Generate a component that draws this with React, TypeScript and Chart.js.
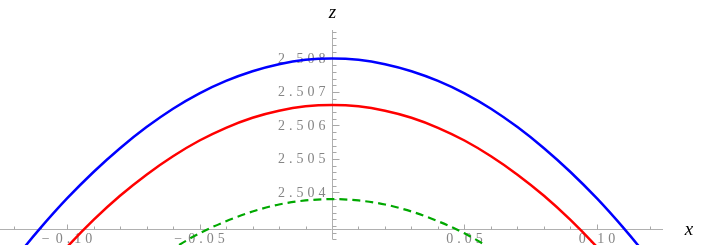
import React, { useEffect, useRef } from "react";
import { Chart, registerables } from "chart.js";

Chart.register(...registerables);

// ---- data ----
const xSamples = [-0.13, -0.12, -0.11, -0.1, -0.09, -0.08, -0.07, -0.06, -0.05, -0.04, -0.03, -0.02, -0.01, 0,
  0.01, 0.02, 0.03, 0.04, 0.05, 0.06, 0.07, 0.08, 0.09, 0.1, 0.11, 0.12, 0.13];
const blueZ = [2.50094, 2.50198, 2.50294, 2.50382, 2.50461, 2.50532, 2.50595, 2.5065, 2.50696, 2.50733, 2.50762, 2.50783, 2.50796, 2.508,
  2.50796, 2.50783, 2.50762, 2.50733, 2.50696, 2.5065, 2.50595, 2.50532, 2.50461, 2.50382, 2.50294, 2.50198, 2.50094];
const redZ = [2.49944, 2.5005, 2.50148, 2.50237, 2.50318, 2.5039, 2.50453, 2.50508, 2.50555, 2.50593, 2.50623, 2.50644, 2.50657, 2.50661,
  2.50657, 2.50644, 2.50623, 2.50593, 2.50555, 2.50508, 2.50453, 2.5039, 2.50318, 2.50237, 2.50148, 2.5005, 2.49944];
const greenX = [-0.07, -0.06, -0.05, -0.04, -0.03, -0.02, -0.01, 0, 0.01, 0.02, 0.03, 0.04, 0.05, 0.06, 0.07];
const greenZ = [2.50179, 2.50232, 2.50278, 2.50314, 2.50343, 2.50364, 2.50376, 2.5038,
  2.50376, 2.50364, 2.50343, 2.50314, 2.50278, 2.50232, 2.50179];

const xTickValues = [-0.1, -0.05, 0.05, 0.1];
const xTickLabels = ["\u22120.10", "\u22120.05", "0.05", "0.10"];
const xMinorTicks = [-0.12, -0.11, -0.09, -0.08, -0.07, -0.06, -0.04, -0.03, -0.02, -0.01,
  0.01, 0.02, 0.03, 0.04, 0.06, 0.07, 0.08, 0.09, 0.11, 0.12];
const zTickValues = [2.504, 2.505, 2.506, 2.507, 2.508];
const zTickLabels = ["2.504", "2.505", "2.506", "2.507", "2.508"];
const zMinorTicks = [2.5026, 2.5028, 2.503, 2.5032, 2.5034, 2.5036, 2.5038, 2.5042, 2.5044, 2.5046, 2.5048,
  2.5052, 2.5054, 2.5056, 2.5058, 2.5062, 2.5064, 2.5066, 2.5068, 2.5072, 2.5074, 2.5076, 2.5078,
  2.5082, 2.5084, 2.5086, 2.5088];

const X_MIN = -0.1253;
const X_MAX = 0.1253;
const Z_MIN = 2.50243;
const Z_MAX = 2.50885;
const AXIS_Z = 2.5029; // where the x axis crosses
const Z_AXIS_BOTTOM = 2.5026;

const LABEL_FONT = '14px "Liberation Serif"';
const LABEL_COLOR = "#858585";
const AXIS_COLOR = "#b0b0b0";
const TICK_COLOR = "#a8a8a8";
const SPACING = 4;

function spacedWidth(ctx: CanvasRenderingContext2D, s: string) {
  let w = 0;
  const chars = Array.from(s);
  chars.forEach((c, i) => {
    w += ctx.measureText(c).width + (i < chars.length - 1 ? SPACING : 0);
  });
  return w;
}

function drawSpaced(ctx: CanvasRenderingContext2D, s: string, x: number, y: number) {
  let cx = x;
  Array.from(s).forEach((c) => {
    ctx.fillText(c, cx, y);
    cx += ctx.measureText(c).width + SPACING + (c === "\u2212" ? 2 : 0);
  });
}

const axesPlugin = {
  id: "mmaAxes",
  beforeDatasetsDraw(chart: any) {
    const { ctx, chartArea } = chart;
    const xs = chart.scales.x;
    const ys = chart.scales.y;
    const x0 = Math.round(xs.getPixelForValue(0)) + 0.5;
    const y0 = Math.round(ys.getPixelForValue(AXIS_Z)) + 0.5;
    ctx.save();
    ctx.lineWidth = 1;
    ctx.strokeStyle = AXIS_COLOR;
    ctx.beginPath();
    ctx.moveTo(chartArea.left, y0);
    ctx.lineTo(chartArea.right - 1, y0);
    ctx.moveTo(x0, chartArea.top);
    ctx.lineTo(x0, ys.getPixelForValue(Z_AXIS_BOTTOM));
    ctx.stroke();

    ctx.strokeStyle = TICK_COLOR;
    ctx.beginPath();
    xTickValues.forEach((v) => {
      const px = Math.round(xs.getPixelForValue(v)) + 0.5;
      ctx.moveTo(px, y0);
      ctx.lineTo(px, y0 - 5);
    });
    xMinorTicks.forEach((v) => {
      const px = Math.round(xs.getPixelForValue(v)) + 0.5;
      ctx.moveTo(px, y0);
      ctx.lineTo(px, y0 - 3);
    });
    zTickValues.forEach((v) => {
      const py = Math.round(ys.getPixelForValue(v)) + 0.5;
      ctx.moveTo(x0, py);
      ctx.lineTo(x0 + 7, py);
    });
    zMinorTicks.forEach((v) => {
      const py = Math.round(ys.getPixelForValue(v)) + 0.5;
      ctx.moveTo(x0, py);
      ctx.lineTo(x0 + 4, py);
    });
    ctx.stroke();

    ctx.fillStyle = LABEL_COLOR;
    ctx.font = LABEL_FONT;
    ctx.textAlign = "left";
    ctx.textBaseline = "middle";
    zTickValues.forEach((v, i) => {
      const py = ys.getPixelForValue(v);
      const w = spacedWidth(ctx, zTickLabels[i]);
      drawSpaced(ctx, zTickLabels[i], x0 - 7 - w, py + 0.5);
    });
    ctx.textBaseline = "alphabetic";
    xTickValues.forEach((v, i) => {
      const px = xs.getPixelForValue(v);
      const w = spacedWidth(ctx, xTickLabels[i]) + (v < 0 ? 2 : 0);
      drawSpaced(ctx, xTickLabels[i], px - w / 2, y0 + 13);
    });

    ctx.fillStyle = "#000";
    ctx.font = 'italic 19px "Liberation Serif"';
    ctx.textAlign = "center";
    ctx.fillText("z", x0, 18);
    ctx.fillText("x", chartArea.right + 25, y0 + 5);
    ctx.restore();
  },
};

export default function App() {
  const canvasRef = useRef<HTMLCanvasElement | null>(null);

  useEffect(() => {
    document.body.style.margin = "0";
    const canvas = canvasRef.current;
    if (!canvas) return;
    const toPts = (xsArr: number[], zsArr: number[]) => xsArr.map((x, i) => ({ x, y: zsArr[i] }));
    const chart = new Chart(canvas, {
      type: "line",
      data: {
        datasets: [
          {
            data: toPts(xSamples, blueZ),
            borderColor: "#0000ff",
            borderWidth: 2.5,
            pointRadius: 0,
            cubicInterpolationMode: "monotone",
            fill: false,
          },
          {
            data: toPts(xSamples, redZ),
            borderColor: "#ff0000",
            borderWidth: 2.5,
            pointRadius: 0,
            cubicInterpolationMode: "monotone",
            fill: false,
          },
          {
            data: toPts(greenX, greenZ),
            borderColor: "#00a800",
            borderWidth: 2.2,
            borderDash: [8, 5],
            pointRadius: 0,
            cubicInterpolationMode: "monotone",
            fill: false,
          },
        ],
      },
      options: {
        responsive: false,
        animation: false,
        devicePixelRatio: 1,
        layout: { padding: { left: 0, right: 42, top: 30, bottom: 0 } },
        plugins: { legend: { display: false }, tooltip: { enabled: false } },
        scales: {
          x: { type: "linear", min: X_MIN, max: X_MAX, display: false },
          y: { type: "linear", min: Z_MIN, max: Z_MAX, display: false },
        },
      },
      plugins: [axesPlugin],
    });
    return () => chart.destroy();
  }, []);

  return (
    <div style={{ width: 706, height: 245, background: "#fff" }}>
      <canvas ref={canvasRef} width={706} height={245} style={{ display: "block" }} />
    </div>
  );
}
